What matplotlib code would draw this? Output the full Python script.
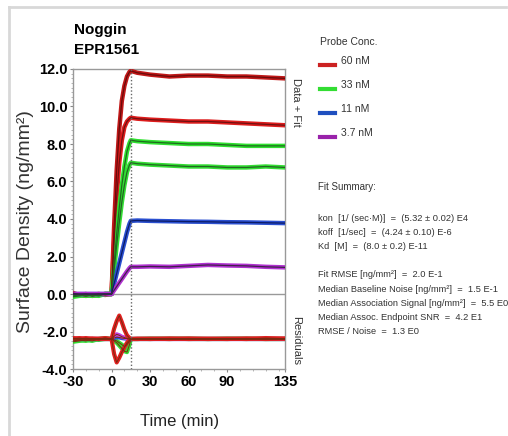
import matplotlib
matplotlib.use("Agg")
import matplotlib.pyplot as plt
from matplotlib.lines import Line2D

plt.rcParams['font.family'] = ['Liberation Sans', 'DejaVu Sans']

# time grid (min)
times = [-30, -25, -20, -15, -10, -5, 0, 2, 4, 6, 8, 10, 12, 14, 15,
         20, 30, 45, 60, 75, 90, 105, 120, 135]

# surface density (ng/mm2)
red_60a = [0.05, -0.05, 0.0, -0.1, -0.05, 0.0, 0.0, 3.6, 6.6, 8.8, 10.3, 11.1, 11.6, 11.85, 11.9,
           11.8, 11.7, 11.6, 11.65, 11.65, 11.6, 11.6, 11.55, 11.5]
red_60b = [0.0, -0.05, -0.1, -0.05, 0.0, -0.05, 0.0, 2.8, 5.2, 7.0, 8.2, 8.9, 9.2, 9.35, 9.4,
           9.35, 9.3, 9.25, 9.2, 9.2, 9.15, 9.1, 9.05, 9.0]
green_33a = [-0.1, -0.05, -0.1, -0.05, -0.1, 0.0, 0.0, 1.6, 3.2, 4.6, 5.8, 6.8, 7.6, 8.05, 8.2,
             8.15, 8.1, 8.05, 8.0, 8.0, 7.95, 7.9, 7.9, 7.9]
green_33b = [-0.15, -0.1, -0.05, -0.1, -0.05, 0.0, 0.0, 1.3, 2.6, 3.8, 4.9, 5.8, 6.5, 6.9, 7.0,
             6.95, 6.9, 6.85, 6.8, 6.8, 6.75, 6.75, 6.8, 6.75]
blue_11 = [0.0, 0.0, 0.0, 0.0, 0.0, 0.0, 0.0, 0.55, 1.1, 1.65, 2.2, 2.75, 3.3, 3.75, 3.9,
           3.92, 3.9, 3.88, 3.86, 3.85, 3.83, 3.82, 3.8, 3.78]
purple_37 = [0.0, 0.0, 0.0, 0.0, 0.0, 0.0, 0.0, 0.2, 0.4, 0.6, 0.8, 1.0, 1.2, 1.38, 1.45,
             1.45, 1.47, 1.45, 1.5, 1.55, 1.52, 1.5, 1.45, 1.42]

# residuals (ng/mm2), drawn below the data around RES_OFFSET
res_red_a = [0.05, 0.0, 0.05, 0.0, 0.02, 0.0, 0.0, 0.55, 0.95, 1.25, 0.9, 0.5, 0.2, 0.05, 0.0,
             0.0, 0.02, 0.0, 0.03, 0.0, 0.02, 0.0, 0.05, 0.02]
res_red_b = [0.02, 0.05, 0.0, 0.03, 0.0, 0.05, 0.0, -0.8, -1.25, -1.0, -0.7, -0.45, -0.2, -0.05, 0.0,
             0.02, 0.0, 0.03, 0.0, 0.02, 0.0, 0.03, 0.0, 0.02]
res_green_a = [-0.15, -0.1, -0.05, -0.1, 0.0, 0.05, 0.0, -0.1, -0.2, -0.35, -0.5, -0.65, -0.7, -0.3, 0.0,
               0.0, 0.02, 0.0, 0.02, 0.0, 0.0, 0.02, 0.0, 0.0]
res_green_b = [-0.1, -0.05, -0.1, 0.0, -0.05, 0.0, 0.0, -0.05, -0.1, -0.2, -0.3, -0.4, -0.3, -0.1, 0.0,
               0.0, 0.0, 0.02, 0.0, 0.0, 0.02, 0.0, 0.0, 0.0]
res_blue = [0.0, 0.0, 0.0, 0.0, 0.0, 0.0, 0.0, 0.05, 0.1, 0.08, 0.05, 0.03, 0.02, 0.0, 0.0,
            0.0, 0.0, 0.0, 0.0, 0.0, 0.0, 0.0, 0.0, 0.0]
res_purple = [0.0, 0.0, 0.0, 0.0, 0.0, 0.0, 0.0, 0.15, 0.25, 0.2, 0.12, 0.08, 0.03, 0.0, 0.0,
              0.0, 0.0, 0.0, 0.0, 0.0, 0.0, 0.0, 0.0, 0.0]
RES_OFFSET = -2.4

legend_labels = ['60 nM', '33 nM', '11 nM', '3.7 nM']
legend_colors = ['#cc2222', '#33dd33', '#1f4fbf', '#9922aa']

xtick_vals = [-30, 0, 30, 60, 90, 135]
ytick_vals = [-4, -2, 0, 2, 4, 6, 8, 10, 12]

summary_lines = [
    'kon  [1/ (sec·M)]  =  (5.32 ± 0.02) E4',
    'koff  [1/sec]  =  (4.24 ± 0.10) E-6',
    'Kd  [M]  =  (8.0 ± 0.2) E-11',
    '',
    'Fit RMSE [ng/mm²]  =  2.0 E-1',
    'Median Baseline Noise [ng/mm²]  =  1.5 E-1',
    'Median Association Signal [ng/mm²]  =  5.5 E0',
    'Median Assoc. Endpoint SNR  =  4.2 E1',
    'RMSE / Noise  =  1.3 E0',
]

W, H = 508, 436
fig = plt.figure(figsize=(W / 100, H / 100), dpi=100)
fig.patch.set_facecolor('white')


def fx(px):
    return px / W


def fy(py):
    return 1 - py / H


# light frame around the panel
fig.add_artist(Line2D([fx(9), fx(506)], [fy(7), fy(7)], color='#d8d8d8', lw=2))
fig.add_artist(Line2D([fx(9), fx(9)], [fy(7), fy(436)], color='#d8d8d8', lw=2))

ax = fig.add_axes([fx(73), fy(369), fx(285) - fx(73), fy(69) - fy(369)])

series = [
    (red_60a, '#c01818', '#6a0a0a'),
    (red_60b, '#dd1c1c', '#701010'),
    (green_33a, '#2ee02e', '#1f6a1f'),
    (green_33b, '#33dd33', '#226622'),
    (blue_11, '#2a4fd0', '#0c1c66'),
    (purple_37, '#b030d0', '#40204a'),
]
for vals, col, fitcol in series:
    ax.plot(times, vals, color=col, lw=3.2, solid_joinstyle='round', zorder=3)
    ax.plot(times, vals, color=fitcol, lw=0.9, zorder=4)

res_series = [
    (res_green_a, '#33dd33'),
    (res_green_b, '#33dd33'),
    (res_blue, '#2a4fd0'),
    (res_purple, '#c040e0'),
    (res_red_b, '#e02020'),
    (res_red_a, '#e02020'),
]
for vals, col in res_series:
    shifted = [v + RES_OFFSET for v in vals]
    ax.plot(times, shifted, color=col, lw=3.0, zorder=3)
    ax.plot(times, shifted, color='#7a2a10', lw=0.7, zorder=4)

ax.axhline(0, color='#999999', lw=1.0, zorder=2)
ax.axvline(15, color='#666666', lw=1.0, ls=(0, (1, 1.5)), zorder=5)

ax.set_xlim(-30, 135)
ax.set_ylim(-4, 12)
ax.set_xticks(xtick_vals)
ax.set_xticklabels([str(v) for v in xtick_vals])
ax.set_xticks(range(-30, 136, 10), minor=True)
ax.set_yticks(ytick_vals)
ax.set_yticklabels(['%.1f' % v for v in ytick_vals])
ax.set_yticks([v * 0.25 for v in range(-16, 49)], minor=True)
ax.tick_params(axis='both', which='major', labelsize=10.5, length=2.5, color='#888888', pad=1.5)
ax.tick_params(axis='both', which='minor', length=1.5, color='#aaaaaa')
for lab in ax.get_xticklabels() + ax.get_yticklabels():
    lab.set_fontweight('bold')
for sp in ax.spines.values():
    sp.set_color('#999999')
    sp.set_linewidth(1.0)

fig.text(fx(26), fy(222), 'Surface Density (ng/mm²)', rotation=90, fontsize=14,
         ha='center', va='center', color='#333333')
fig.text(fx(180), fy(421), 'Time (min)', fontsize=12, ha='center', va='center', color='#222222')
fig.text(fx(74), fy(30), 'Noggin', fontsize=11, fontweight='bold', ha='left', va='center')
fig.text(fx(74), fy(50), 'EPR1561', fontsize=11, fontweight='bold', ha='left', va='center')

fig.text(fx(296), fy(102), 'Data + Fit', rotation=-90, fontsize=8, ha='center', va='center',
         color='#333333')
fig.text(fx(296), fy(340), 'Residuals', rotation=-90, fontsize=8, ha='center', va='center',
         color='#333333')

# legend
fig.text(fx(320), fy(42), 'Probe Conc.', fontsize=7.5, ha='left', va='center', color='#333333')
for i, (lab, col) in enumerate(zip(legend_labels, legend_colors)):
    yy = 61 + i * 24
    fig.add_artist(Line2D([fx(320), fx(335)], [fy(yy + 4), fy(yy + 4)], color=col, lw=3))
    fig.text(fx(341), fy(yy), lab, fontsize=7.5, ha='left', va='center', color='#333333')

# fit summary
fig.text(fx(318), fy(187), 'Fit Summary:', fontsize=7, ha='left', va='center', color='#333333')
for i, line in enumerate(summary_lines):
    fig.text(fx(318), fy(218 + i * 14.2), line, fontsize=6.7, ha='left', va='center',
             color='#333333')

fig.savefig('out.png', dpi=100, facecolor='white')
